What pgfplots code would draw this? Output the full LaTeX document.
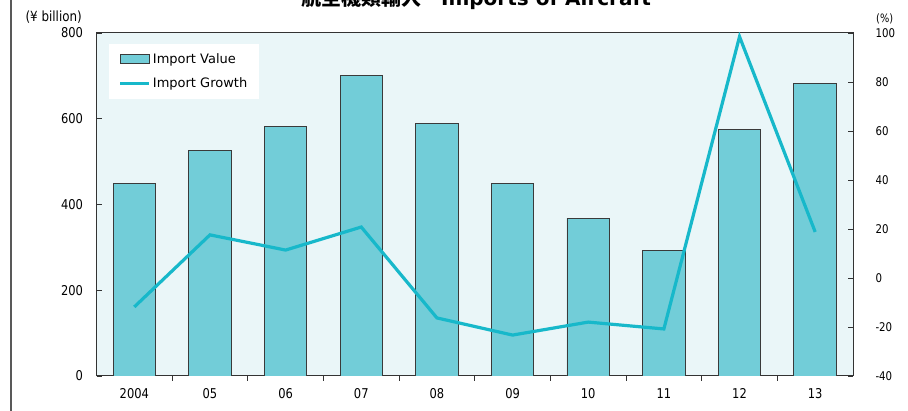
\documentclass[border=0pt]{standalone}
\usepackage{pgfplots}
\pgfplotsset{compat=1.18}
\usepackage{fontspec}
\setmainfont{DejaVu Sans}
\newfontfamily\cond{DejaVu Sans}[FakeStretch=0.85]
\newfontfamily\cjk{Noto Sans CJK JP}
\definecolor{barfill}{HTML}{72CDD8}
\definecolor{bardraw}{HTML}{3A3A3A}
\definecolor{linecol}{HTML}{17B8CA}
\definecolor{bgcol}{HTML}{EAF6F8}
\definecolor{axcol}{HTML}{333333}
\begin{document}
\begin{tikzpicture}[x=1pt,y=1pt]
\useasboundingbox (0,0) rectangle (908,411);
\draw[color=gray!70!black, line width=1.2pt] (11,0) -- (11,411);
\node[anchor=base, font=\bfseries\fontsize{20}{23}\selectfont] at (476,405) {{\cjk 航空機類輸入　}Imports of Aircraft};
\node[anchor=east, inner sep=0pt, font=\cond\fontsize{14}{16}\selectfont] at (82,394) {(¥ billion)};
\node[anchor=west, inner sep=0pt, font=\cond\fontsize{11.5}{13}\selectfont] at (876,392) {(\%)};
\begin{axis}[
  /pgf/number format/assume math mode=true,
  at={(96.5pt,35pt)}, anchor=south west, scale only axis,
  width=756.5pt, height=343pt,
  xmin=-0.5, xmax=9.5, ymin=0, ymax=800,
  axis background/.style={fill=bgcol},
  axis line style={draw=axcol, line width=1pt},
  xtick={0,...,9},
  xticklabels={2004,05,06,07,08,09,10,11,12,13},
  minor x tick num=1,
  major x tick style={draw=none},
  minor x tick style={draw=axcol, line width=0.8pt},
  minor tick length=5pt,
  xtick pos=bottom,
  ytick={0,200,...,800},
  ytick pos=left,
  major y tick style={draw=axcol, line width=0.8pt},
  major tick length=5pt,
  tick align=inside,
  xticklabel style={font=\cond\fontsize{13.5}{15}\selectfont, yshift=-4pt},
  yticklabel style={font=\cond\fontsize{13.5}{15}\selectfont, xshift=-10pt},
  ybar, bar width=42.5pt,
]
\addplot[fill=barfill, draw=bardraw, line width=0.9pt] coordinates {
(0,448) (1,525) (2,583) (3,702) (4,588) (5,450) (6,368) (7,292) (8,576) (9,683)};
\end{axis}
\begin{axis}[
  /pgf/number format/assume math mode=true,
  at={(96.5pt,35pt)}, anchor=south west, scale only axis,
  width=756.5pt, height=343pt,
  xmin=-0.5, xmax=9.5, ymin=-40, ymax=100,
  axis x line=none,
  axis y line*=right,
  axis line style={draw=axcol, line width=1pt, -},
  ytick={-40,-20,...,100},
  major y tick style={draw=axcol, line width=0.8pt},
  major tick length=5pt,
  tick align=inside,
  yticklabel style={font=\cond\fontsize{12}{14}\selectfont, xshift=19pt},
  legend style={at={(rel axis cs:0.0159,0.968)}, anchor=north west, fill=white, draw=none,
    font=\fontsize{13}{15}\selectfont, inner xsep=10pt, inner ysep=7.5pt, row sep=9pt},
  legend cell align=left,
]
\addlegendimage{legend image code/.code={\draw[fill=barfill, draw=bardraw, line width=0.9pt] (0pt,-4.5pt) rectangle (29pt,4.5pt);}}
\addlegendentry{Import Value}
\addplot[color=linecol, line width=3.2pt, legend image code/.code={\draw[color=linecol, line width=3.2pt] (0pt,0pt) -- (29pt,0pt);}] coordinates {
(0,-11.8) (1,17.6) (2,11.4) (3,20.8) (4,-16.3) (5,-23.3) (6,-18.0) (7,-20.8) (8,98.5) (9,18.8)};
\addlegendentry{Import Growth}
\end{axis}
\end{tikzpicture}
\end{document}
